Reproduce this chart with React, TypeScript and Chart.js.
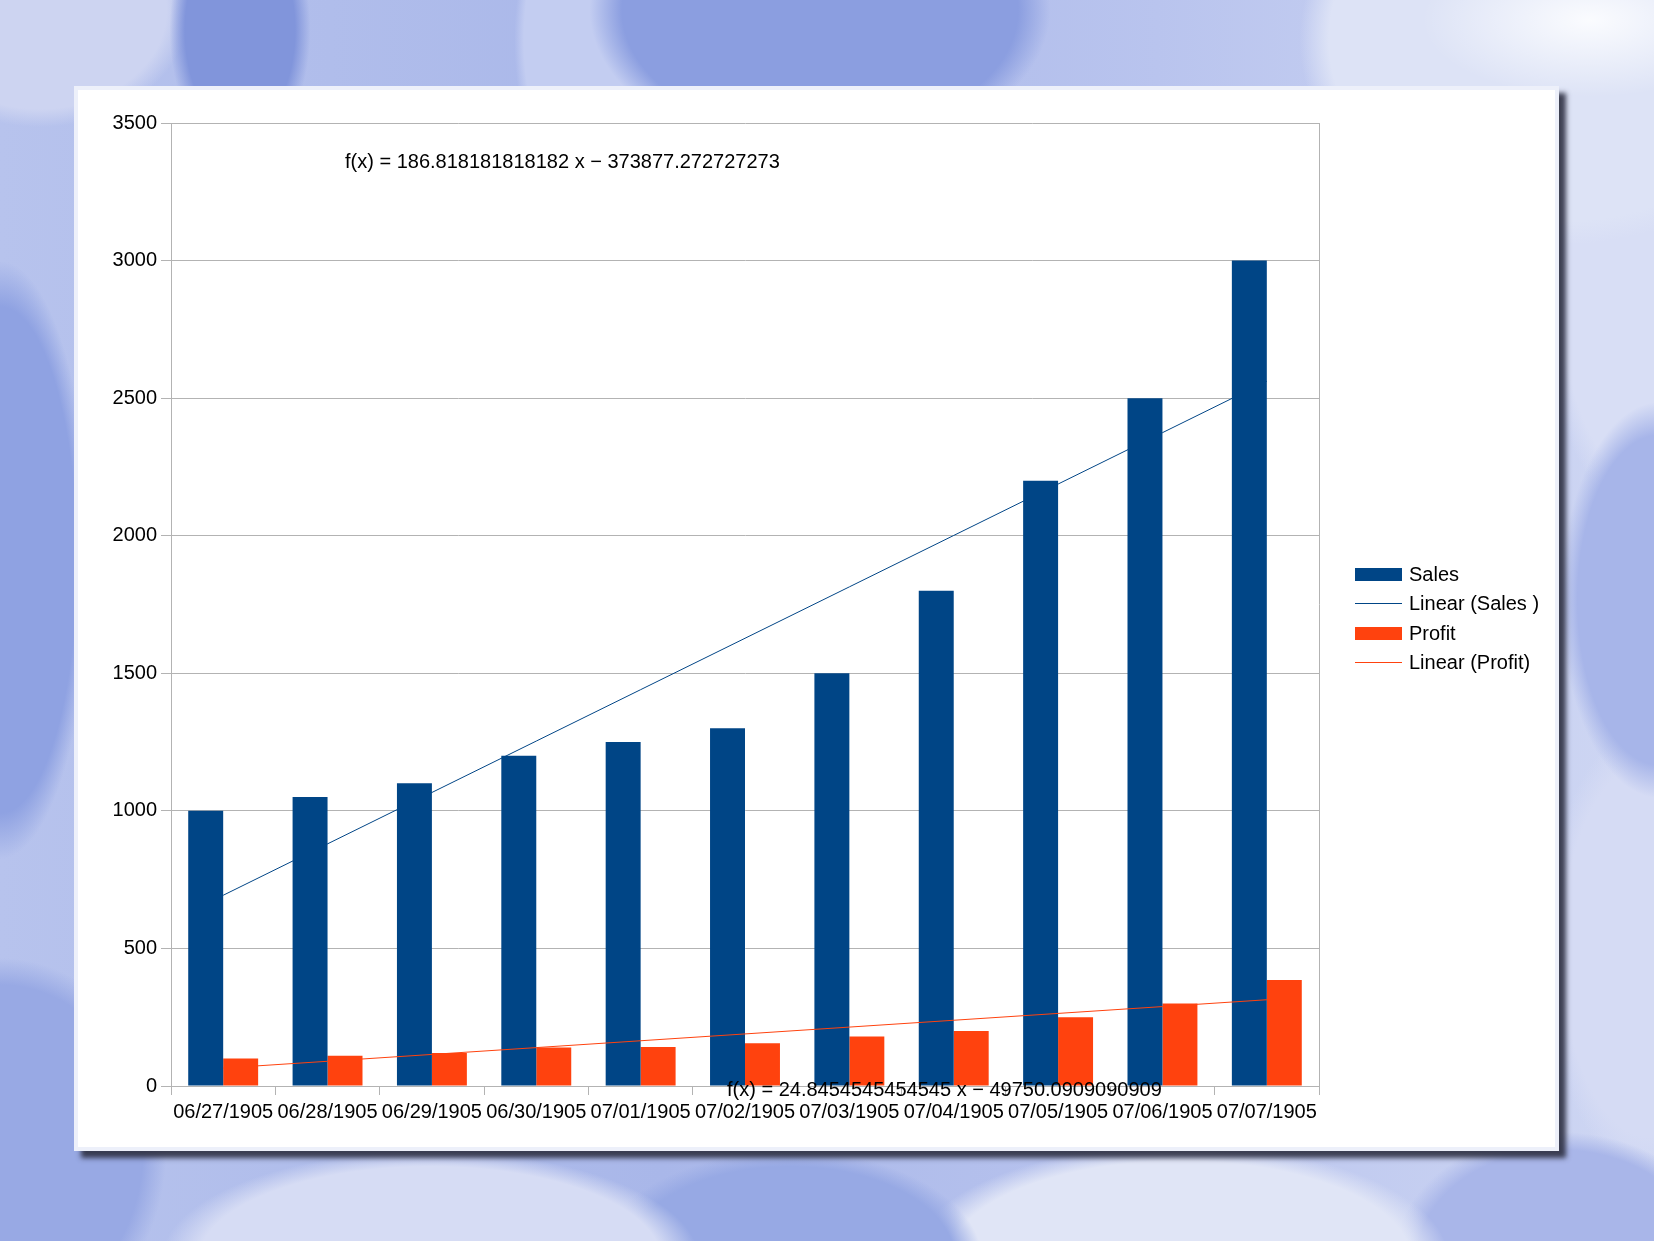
import React, { useEffect, useRef } from "react";
import { Chart, registerables } from "chart.js";

Chart.register(...registerables);

const categories = [
  "06/27/1905", "06/28/1905", "06/29/1905", "06/30/1905", "07/01/1905", "07/02/1905",
  "07/03/1905", "07/04/1905", "07/05/1905", "07/06/1905", "07/07/1905",
];
// date serial numbers behind the category labels (x of the trend equations)
const dateSerials = [2005, 2006, 2007, 2008, 2009, 2010, 2011, 2012, 2013, 2014, 2015];
const sales = [1000, 1050, 1100, 1200, 1250, 1300, 1500, 1800, 2200, 2500, 3000];
const profit = [100, 110, 120, 140, 142, 155, 180, 200, 250, 300, 385];
const salesTrendCoef = [186.818181818182, -373877.272727273];
const profitTrendCoef = [24.8454545454545, -49750.0909090909];
const equationLabels = [
  "f(x) = 186.818181818182 x \u2212 373877.272727273",
  "f(x) = 24.8454545454545 x \u2212 49750.0909090909",
];
const legendLabels = ["Sales", "Linear (Sales )", "Profit", "Linear (Profit)"];
const yMin = 0;
const yMax = 3500;
const yStep = 500;

const SALES_COLOR = "#004586";
const PROFIT_COLOR = "#ff420e";
const GRID = "#b3b3b3";
const FONT = '"Liberation Sans", Arial, sans-serif';

const trend = (coef: number[]) => dateSerials.map((x) => coef[0] * x + coef[1]);

const frameAndTextPlugin = {
  id: "frameAndText",
  beforeDatasetsDraw(chart: any) {
    const { ctx, chartArea } = chart;
    ctx.save();
    ctx.strokeStyle = GRID;
    ctx.lineWidth = 1;
    ctx.beginPath();
    const x = Math.round(chartArea.right) + 0.5;
    ctx.moveTo(x, chartArea.top);
    ctx.lineTo(x, chartArea.bottom);
    ctx.stroke();
    ctx.restore();
  },
  afterDatasetsDraw(chart: any) {
    const { ctx } = chart;
    ctx.save();
    ctx.fillStyle = "#000000";
    ctx.font = `20px ${FONT}`;
    ctx.textAlign = "left";
    ctx.textBaseline = "alphabetic";
    ctx.fillText(equationLabels[0], 345, 168);
    ctx.fillText(equationLabels[1], 727, 1096);
    ctx.restore();
  },
};

function ChartCanvas() {
  const ref = useRef<HTMLCanvasElement | null>(null);
  useEffect(() => {
    if (!ref.current) return;
    const chart = new Chart(ref.current, {
      type: "bar",
      data: {
        labels: categories,
        datasets: [
          {
            type: "line",
            label: legendLabels[1],
            data: trend(salesTrendCoef),
            borderColor: SALES_COLOR,
            borderWidth: 1,
            pointRadius: 0,
            fill: false,
            order: 0,
          } as any,
          {
            type: "line",
            label: legendLabels[3],
            data: trend(profitTrendCoef),
            borderColor: PROFIT_COLOR,
            borderWidth: 1,
            pointRadius: 0,
            fill: false,
            order: 0,
          } as any,
          {
            type: "bar",
            label: legendLabels[0],
            data: sales,
            backgroundColor: SALES_COLOR,
            categoryPercentage: 0.67,
            barPercentage: 1,
            order: 1,
          },
          {
            type: "bar",
            label: legendLabels[2],
            data: profit,
            backgroundColor: PROFIT_COLOR,
            categoryPercentage: 0.67,
            barPercentage: 1,
            order: 1,
          },
        ],
      },
      options: {
        responsive: false,
        animation: false,
        devicePixelRatio: 1,
        layout: { padding: { left: 101, top: 123, right: 335, bottom: 95 } },
        plugins: { legend: { display: false }, tooltip: { enabled: false } },
        scales: {
          x: {
            type: "category",
            offset: true,
            grid: { offset: true, drawOnChartArea: false, tickLength: 9, color: GRID },
            border: { color: GRID },
            ticks: {
              autoSkip: false,
              maxRotation: 0,
              minRotation: 0,
              padding: 5,
              color: "#000000",
              font: { family: FONT, size: 20 },
            },
            afterFit: (s: any) => {
              s.height = 60;
            },
          },
          y: {
            min: yMin,
            max: yMax,
            ticks: {
              stepSize: yStep,
              padding: 4,
              color: "#000000",
              font: { family: FONT, size: 20 },
              callback: (v: any) => String(v),
            },
            grid: { color: GRID, tickLength: 10 },
            border: { color: GRID },
            afterFit: (s: any) => {
              s.width = 70;
            },
          },
        },
      },
      plugins: [frameAndTextPlugin],
    });
    return () => chart.destroy();
  }, []);
  return (
    <canvas
      ref={ref}
      width={1654}
      height={1241}
      style={{ position: "absolute", left: 0, top: 0, width: 1654, height: 1241 }}
    />
  );
}

const background = [
  "radial-gradient(ellipse 240px 110px at 1590px 20px, rgba(252,253,255,0.95), rgba(252,253,255,0) 70%)",
  "radial-gradient(ellipse 420px 330px at 1560px 40px, #dde3f6 55%, rgba(221,227,246,0) 62%)",
  "radial-gradient(ellipse 360px 230px at 820px 10px, #8b9ee0 55%, rgba(139,158,224,0) 64%)",
  "radial-gradient(ellipse 120px 260px at 590px 40px, #c3cdf1 55%, rgba(195,205,241,0) 63%)",
  "radial-gradient(ellipse 110px 200px at 240px 30px, #8195db 50%, rgba(129,149,219,0) 64%)",
  "radial-gradient(ellipse 230px 180px at 40px 10px, #cdd4f1 55%, rgba(205,212,241,0) 65%)",
  "radial-gradient(ellipse 140px 460px at 0px 560px, #8fa2e2 55%, rgba(143,162,226,0) 65%)",
  "radial-gradient(ellipse 260px 300px at 0px 1150px, #98a9e4 55%, rgba(152,169,228,0) 64%)",
  "radial-gradient(ellipse 420px 170px at 430px 1260px, #d6dcf4 55%, rgba(214,220,244,0) 64%)",
  "radial-gradient(ellipse 300px 170px at 790px 1260px, #97a9e4 55%, rgba(151,169,228,0) 64%)",
  "radial-gradient(ellipse 420px 180px at 1180px 1260px, #e0e5f6 55%, rgba(224,229,246,0) 64%)",
  "radial-gradient(ellipse 260px 200px at 1560px 1260px, #a9b6e9 55%, rgba(169,182,233,0) 64%)",
  "radial-gradient(ellipse 150px 300px at 1660px 600px, #a7b5e9 55%, rgba(167,181,233,0) 66%)",
  "radial-gradient(ellipse 160px 330px at 1650px 300px, #d8def5 55%, rgba(216,222,245,0) 66%)",
  "radial-gradient(ellipse 160px 340px at 1650px 950px, #d5dbf4 55%, rgba(213,219,244,0) 66%)",
  "linear-gradient(90deg, #b7c3ed 0%, #a9b7e9 40%, #b9c4ee 70%, #cfd7f3 100%)",
].join(", ");

export default function App() {
  return (
    <div
      style={{
        position: "fixed",
        left: 0,
        top: 0,
        width: 1654,
        height: 1241,
        overflow: "hidden",
        background,
        fontFamily: FONT,
      }}
    >
      <div
        style={{
          position: "absolute",
          left: 74,
          top: 86,
          width: 1485,
          height: 1065,
          background: "#ffffff",
          boxShadow: "inset 0 0 0 4px #edf0fa, 7px 7px 5px rgba(45,48,65,0.9)",
        }}
      />
      <ChartCanvas />
      <div style={{ position: "absolute", left: 0, top: 0 }}>
        {legendLabels.map((label, i) => {
          const cy = [574, 603, 633, 662][i];
          const isBar = i % 2 === 0;
          const color = i < 2 ? SALES_COLOR : PROFIT_COLOR;
          return (
            <React.Fragment key={label}>
              <div
                style={{
                  position: "absolute",
                  left: 1355,
                  top: isBar ? cy - 6.5 : cy - 0.5,
                  width: 47,
                  height: isBar ? 13 : 1,
                  background: color,
                }}
              />
              <div
                style={{
                  position: "absolute",
                  left: 1409,
                  top: cy - 12,
                  height: 24,
                  lineHeight: "24px",
                  fontSize: 20,
                  color: "#000",
                  whiteSpace: "nowrap",
                }}
              >
                {label}
              </div>
            </React.Fragment>
          );
        })}
      </div>
    </div>
  );
}
